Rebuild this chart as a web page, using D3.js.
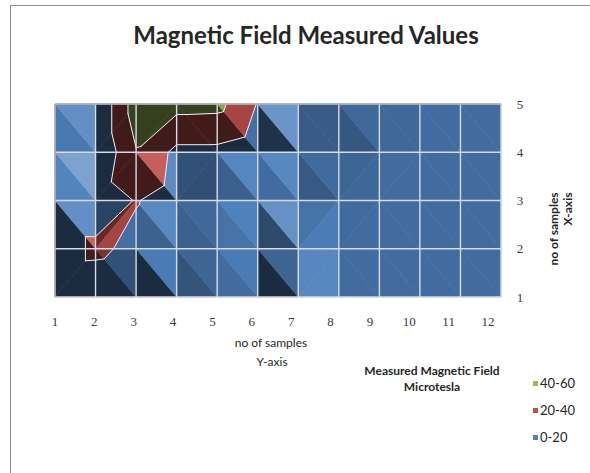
<!DOCTYPE html>
<html>
<head>
    <meta charset="UTF-8"/>
    <style>
        body {
            margin: 0;
            background: #fff;
        }
        text {
            font-family: Lato, "Open Sans", sans-serif;
            fill: #262626;
        }
        .tick {
            font-family: "Liberation Serif", "DejaVu Serif", serif;
            font-size: 13px;
            fill: #3a3a3a;
        }
    </style>
</head>
<body>
<script src="https://d3js.org/d3.v7.min.js"></script>
<div id="chart"></div>

<script>

    // sample number along the bottom (x) and up the right side (y)
    var xValues = [1, 2, 3, 4, 5, 6, 7, 8, 9, 10, 11, 12];
    var yValues = [1, 2, 3, 4, 5];

    // measured magnetic field (microtesla), one row per y sample
    var fieldY1 = [8, 7, 5, 6, 6, 4, 11, 7, 7, 7, 7, 7];
    var fieldY2 = [8, 24, 15, 9, 8, 5, 8, 7, 7, 7, 7, 7];
    var fieldY3 = [8, 8, 21, 11.5, 10, 6, 4, 6, 7, 7, 7, 7];
    var fieldY4 = [4, 0, 39, 15, 15, 8, 4, 5, 6.5, 7, 7, 7];
    var fieldY5 = [6, 0, 50, 47, 46, 19, 5, 6, 6.5, 7, 7, 7];

    // colour bands of the surface
    var bandNames = ["0-20", "20-40", "40-60"];
    var bandLimits = [0, 20, 40, 60];
    var bandColors = ["#4f81bd", "#c0504d", "#9bbb59"];

    var rows = [fieldY1, fieldY2, fieldY3, fieldY4, fieldY5];

    var width = 590, height = 473;

    var svg = d3.select("#chart")
        .append("svg")
        .attr("width", width)
        .attr("height", height);

    // outer chart border (runs off the bottom / right of the picture)
    svg.append("rect")
        .attr("x", 10.5).attr("y", 5.5)
        .attr("width", 700).attr("height", 500)
        .attr("fill", "none")
        .attr("stroke", "#8c8c8c");

    var x = d3.scaleLinear().domain([1, 12]).range([55, 501]);
    var y = d3.scaleLinear().domain([1, 5]).range([297, 104]);
    // tick labels of the x axis sit a bit left of the grid (perspective)
    var xLabel = d3.scaleLinear().domain([1, 12]).range([55, 488]);

    // lighting for the 3-D look
    var zScale = 0.08;
    var light = normalize([0.64, 0.55, 0.55]);

    function normalize(v) {
        var l = Math.sqrt(v[0] * v[0] + v[1] * v[1] + v[2] * v[2]);
        return [v[0] / l, v[1] / l, v[2] / l];
    }

    function shade(tri) {
        var a = tri[0], b = tri[1], c = tri[2];
        var u = [b.x - a.x, b.y - a.y, (b.z - a.z) * zScale];
        var v = [c.x - a.x, c.y - a.y, (c.z - a.z) * zScale];
        var n = [u[1] * v[2] - u[2] * v[1], u[2] * v[0] - u[0] * v[2], u[0] * v[1] - u[1] * v[0]];
        if (n[2] < 0) n = [-n[0], -n[1], -n[2]];
        n = normalize(n);
        var i = n[0] * light[0] + n[1] * light[1] + n[2] * light[2];
        var f = 0.84 + 1.3 * (i - light[2]);
        return Math.max(0.34, Math.min(1.3, f));
    }

    function tint(color, f) {
        var c = d3.rgb(color);
        if (f <= 1) return d3.rgb(c.r * f, c.g * f, c.b * f).formatHex();
        return d3.interpolateRgb(color, "#ffffff")((f - 1) * 0.9);
    }

    // keep the part of a polygon with z >= level (above) or z <= level
    function clip(poly, level, above) {
        var out = [];
        for (var i = 0; i < poly.length; i++) {
            var a = poly[i], b = poly[(i + 1) % poly.length];
            var ina = above ? a.z >= level : a.z <= level;
            var inb = above ? b.z >= level : b.z <= level;
            if (ina) out.push(a);
            if (ina !== inb) {
                var t = (level - a.z) / (b.z - a.z);
                out.push({x: a.x + t * (b.x - a.x), y: a.y + t * (b.y - a.y), z: level});
            }
        }
        return out;
    }

    function node(i, j) {
        return {x: xValues[i], y: yValues[j], z: rows[j][i]};
    }

    // split every cell in two triangles, along the diagonal with the higher values
    var triangles = [];
    for (var j = 0; j < yValues.length - 1; j++) {
        for (var i = 0; i < xValues.length - 1; i++) {
            var tl = node(i, j + 1), tr = node(i + 1, j + 1), bl = node(i, j), br = node(i + 1, j);
            if (tl.z + br.z >= bl.z + tr.z) {
                triangles.push([tl, bl, br], [tl, tr, br]);
            } else {
                triangles.push([tl, tr, bl], [bl, br, tr]);
            }
        }
    }

    var pieces = [];
    var isoLines = [];
    triangles.forEach(function (tri) {
        var f = shade(tri);
        bandNames.forEach(function (name, k) {
            var poly = clip(tri, bandLimits[k], true);
            if (k < bandNames.length - 1) poly = clip(poly, bandLimits[k + 1], false);
            if (poly.length > 2) pieces.push({poly: poly, color: tint(bandColors[k], f)});
        });
        [20, 40].forEach(function (level) {
            var pts = [];
            for (var e = 0; e < 3; e++) {
                var a = tri[e], b = tri[(e + 1) % 3];
                if ((a.z - level) * (b.z - level) < 0) {
                    var t = (level - a.z) / (b.z - a.z);
                    pts.push([a.x + t * (b.x - a.x), a.y + t * (b.y - a.y)]);
                }
            }
            if (pts.length === 2) isoLines.push(pts);
        });
    });

    var toPath = d3.line()
        .x(function (p) { return x(p.x); })
        .y(function (p) { return y(p.y); });

    var plot = svg.append("g");

    plot.selectAll("path.piece")
        .data(pieces)
        .enter()
        .append("path")
        .attr("class", "piece")
        .attr("d", function (d) { return toPath(d.poly) + "Z"; })
        .attr("fill", function (d) { return d.color; })
        .attr("stroke", function (d) { return d.color; })
        .attr("stroke-width", 0.6)
        .attr("stroke-linejoin", "round");

    // band edges
    plot.selectAll("line.iso")
        .data(isoLines)
        .enter()
        .append("line")
        .attr("class", "iso")
        .attr("x1", function (d) { return x(d[0][0]); })
        .attr("y1", function (d) { return y(d[0][1]); })
        .attr("x2", function (d) { return x(d[1][0]); })
        .attr("y2", function (d) { return y(d[1][1]); })
        .attr("stroke", "#f2f2f2")
        .attr("stroke-width", 1)
        .attr("stroke-linecap", "round");

    // grid
    plot.selectAll("line.vgrid")
        .data(xValues)
        .enter()
        .append("line")
        .attr("x1", function (d) { return x(d); })
        .attr("x2", function (d) { return x(d); })
        .attr("y1", y(1)).attr("y2", y(5))
        .attr("stroke", "#d6dce5")
        .attr("stroke-width", 1.4);

    plot.selectAll("line.hgrid")
        .data(yValues)
        .enter()
        .append("line")
        .attr("x1", x(1)).attr("x2", x(12))
        .attr("y1", function (d) { return y(d); })
        .attr("y2", function (d) { return y(d); })
        .attr("stroke", "#d6dce5")
        .attr("stroke-width", 1.4);

    plot.append("path")
        .attr("d", "M" + x(1) + "," + y(1) + "V" + y(5) + "H" + x(12))
        .attr("fill", "none")
        .attr("stroke", "#939393")
        .attr("stroke-width", 1);

    // axis labels
    svg.selectAll("text.xlab")
        .data(xValues)
        .enter()
        .append("text")
        .attr("class", "tick")
        .attr("x", function (d) { return xLabel(d); })
        .attr("y", 326)
        .attr("text-anchor", "middle")
        .text(function (d) { return d; });

    svg.selectAll("text.ylab")
        .data(yValues)
        .enter()
        .append("text")
        .attr("class", "tick")
        .attr("x", 520)
        .attr("y", function (d) { return y(d) + 4.5; })
        .attr("text-anchor", "middle")
        .text(function (d) { return d; });

    // titles
    svg.append("text")
        .attr("x", 306).attr("y", 44)
        .attr("text-anchor", "middle")
        .attr("font-size", "24px")
        .attr("font-weight", "bold")
        .attr("fill", "#111")
        .text("Magnetic Field Measured Values");

    svg.append("text")
        .attr("x", 271).attr("y", 347)
        .attr("text-anchor", "middle")
        .attr("font-size", "12px")
        .text("no of samples");
    svg.append("text")
        .attr("x", 272).attr("y", 366)
        .attr("text-anchor", "middle")
        .attr("font-size", "12px")
        .text("Y-axis");

    svg.append("text")
        .attr("transform", "translate(558,229) rotate(-90)")
        .attr("text-anchor", "middle")
        .attr("font-size", "12px")
        .attr("font-weight", "bold")
        .text("no of samples");
    svg.append("text")
        .attr("transform", "translate(572,209) rotate(-90)")
        .attr("text-anchor", "middle")
        .attr("font-size", "12px")
        .attr("font-weight", "bold")
        .text("X-axis");

    svg.append("text")
        .attr("x", 432).attr("y", 375)
        .attr("text-anchor", "middle")
        .attr("font-size", "12px")
        .attr("font-weight", "bold")
        .text("Measured Magnetic Field");
    svg.append("text")
        .attr("x", 432).attr("y", 391)
        .attr("text-anchor", "middle")
        .attr("font-size", "12px")
        .attr("font-weight", "bold")
        .text("Microtesla");

    // legend, highest band on top
    var legend = svg.selectAll("g.legend")
        .data(bandNames.slice().reverse())
        .enter()
        .append("g")
        .attr("class", "legend")
        .attr("transform", function (d, k) { return "translate(533," + (383.5 + k * 27) + ")"; });

    legend.append("rect")
        .attr("x", 0).attr("y", -2.5)
        .attr("width", 5).attr("height", 5)
        .attr("fill", function (d) { return bandColors[bandNames.indexOf(d)]; });

    legend.append("text")
        .attr("x", 7).attr("y", 4.5)
        .attr("font-family", "'Liberation Sans', sans-serif")
        .attr("font-size", "13px")
        .attr("fill", "#3a3a3a")
        .text(function (d) { return d; });

</script>
</body>
</html>
